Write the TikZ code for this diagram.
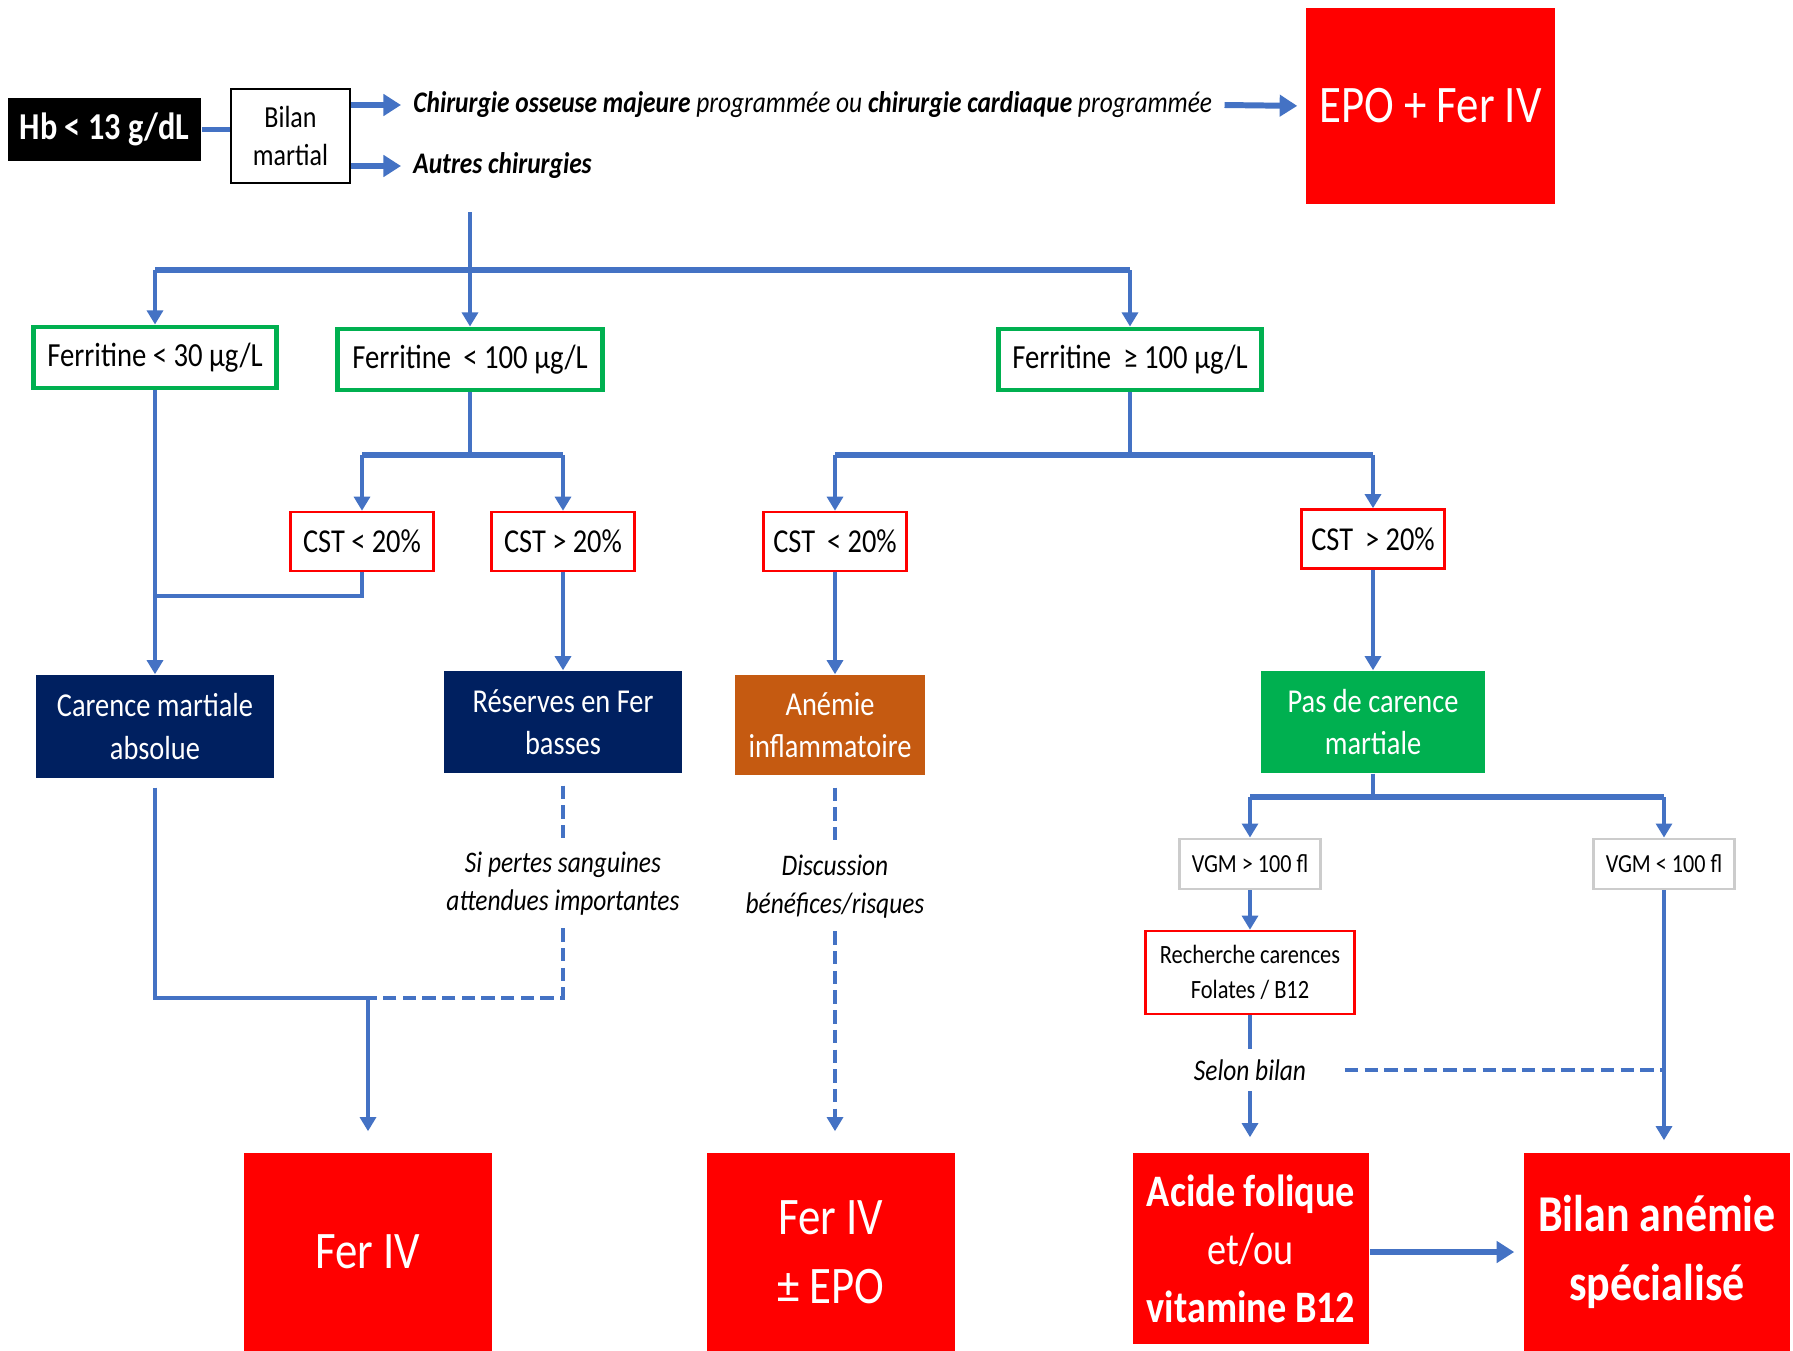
\documentclass[tikz,border=0pt]{standalone}
\usepackage{fontspec}
\setmainfont{Carlito}[FakeStretch=0.85]
\usepackage{xcolor}
\usetikzlibrary{arrows.meta,positioning}

\definecolor{linkblue}{HTML}{4472C4}
\definecolor{navybox}{HTML}{002060}
\definecolor{orangebox}{HTML}{C55A11}
\definecolor{greenbox}{HTML}{00B050}
\definecolor{redbox}{HTML}{FF0000}

\begin{document}
\begin{tikzpicture}[x=0.01cm, y=-0.01cm,
  conn/.style={draw=linkblue, line width=1.1pt},
  arr/.style={conn, -{Triangle[length=4pt,width=4.5pt]}},
  dconn/.style={conn, dash pattern=on 3.8pt off 1.8pt},
  darr/.style={dconn, -{Triangle[length=4pt,width=4.5pt]}},
  bar/.style={draw=linkblue, line width=1.8pt},
  thk/.style={draw=linkblue, line width=1.7pt},
  thkarr/.style={thk, -{Triangle[length=5pt,width=6pt]}},
  ferbox/.style={draw=greenbox, line width=1.4pt, fill=white, minimum height=0.61cm, inner sep=0pt, font=\fontsize{9.6}{12}\selectfont},
  cstbox/.style={draw=redbox, line width=0.7pt, fill=white, minimum width=1.43cm, minimum height=0.59cm, inner sep=0pt, font=\fontsize{9.5}{12}\selectfont},
  statebox/.style={text=white, align=center, inner sep=0pt, font=\fontsize{9.5}{12}\selectfont},
  vgmbox/.style={draw=black!20, line width=0.8pt, fill=white, minimum width=1.41cm, minimum height=0.5cm, inner sep=0pt, font=\fontsize{7.4}{9}\selectfont},
  redbig/.style={fill=redbox, text=white, align=center, inner sep=0pt},
  note/.style={align=center, inner sep=0.12cm, font=\itshape\fontsize{8.5}{10.8}\selectfont}]

  \useasboundingbox (0,0) rectangle (1793,1351);
  \fill[white] (0,0) rectangle (1793,1351);

  % Entree
  \node[fill=black, text=white, minimum width=1.93cm, minimum height=0.63cm, inner sep=0pt,
        font=\bfseries\fontsize{10.8}{13}\selectfont] (hb) at (104.5,129.5) {Hb < 13 g/dL};
  \node[draw=black, line width=0.6pt, fill=white, align=center, minimum width=1.19cm, minimum height=0.94cm,
        inner sep=0pt, font=\fontsize{8.7}{10.8}\selectfont] (bilan) at (290.5,136) {Bilan\\martial};
  \node[anchor=west, font=\itshape\fontsize{8.5}{10}\selectfont] (chir) at (401,105)
       {\textbf{Chirurgie osseuse majeure} programmée ou \textbf{chirurgie cardiaque} programmée};
  \node[anchor=west, font=\itshape\fontsize{8.5}{10}\selectfont] (autres) at (401,166) {\textbf{Autres chirurgies}};
  \node[redbig, minimum width=2.49cm, minimum height=1.96cm, font=\fontsize{15}{19.6}\selectfont] (epo) at (1430.5,106) {EPO + Fer IV};

  \draw[thk] (hb.east) -- (bilan.west |- hb.east);
  \draw[thkarr] (bilan.east |- chir.west) -- (chir.west);
  \draw[thkarr] (bilan.east |- autres.west) -- (autres.west);
  \draw[thkarr, shorten >=0.08cm] (chir.east) -- (epo.west);

  % Ferritine
  \coordinate (trunk) at (470,212);
  \coordinate (split1) at (470,270);
  \node[ferbox, minimum width=2.43cm] (f1) at (155,357.5) {Ferritine < 30 µg/L};
  \node[ferbox, minimum width=2.65cm] (f2) at (470,359.5) {Ferritine \,< 100 µg/L};
  \node[ferbox, minimum width=2.63cm] (f3) at (1130,359.5) {Ferritine \,≥ 100 µg/L};

  \draw[conn] (trunk) -- (split1);
  \draw[bar] (f1.north |- split1) -- (f3.north |- split1);
  \foreach \fb in {f1,f2,f3}
    \draw[arr] (\fb.north |- split1) -- (\fb.north);

  % CST
  \coordinate (split2) at (470,455);
  \coordinate (split3) at (1130,455);
  \node[cstbox] (c1) at (362,541.5) {CST < 20\%};
  \node[cstbox] (c2) at (563,541.5) {CST > 20\%};
  \node[cstbox] (c3) at (835,541.5) {CST \,< 20\%};
  \node[cstbox] (c4) at (1373,539) {CST \,> 20\%};

  \draw[conn] (f2.south) -- (split2);
  \draw[bar] (c1.north |- split2) -- (c2.north |- split2);
  \draw[conn] (f3.south) -- (split3);
  \draw[bar] (c3.north |- split3) -- (c4.north |- split3);
  \foreach \cb in {c1,c2}
    \draw[arr] (\cb.north |- split2) -- (\cb.north);
  \foreach \cb in {c3,c4}
    \draw[arr] (\cb.north |- split3) -- (\cb.north);

  % Diagnostics
  \node[statebox, fill=navybox, minimum width=2.37cm, minimum height=1.03cm] (carence) at (155,726.5) {Carence martiale\\absolue};
  \node[statebox, fill=navybox, minimum width=2.37cm, minimum height=1.02cm] (reserves) at (563,722) {Réserves en Fer\\basses};
  \node[statebox, fill=orangebox, minimum width=1.89cm, minimum height=1.0cm] (anemie) at (830,725) {Anémie\\inflammatoire};
  \node[statebox, fill=greenbox, minimum width=2.23cm, minimum height=1.02cm] (pasde) at (1373,722) {Pas de carence\\martiale};

  \coordinate (cjoin) at (155,596);
  \draw[arr] (f1.south) -- (carence.north);
  \draw[conn] (c1.south) |- (cjoin);
  \draw[arr] (c2.south) -- (reserves.north);
  \draw[arr] (c3.south) -- (c3.south |- anemie.north);
  \draw[arr] (c4.south) -- (pasde.north);

  % Traitements gauche
  \coordinate (merge) at (368,998);
  \node[note] (si) at (563,884) {Si pertes sanguines\\attendues importantes};
  \node[note] (disc) at (835,887) {Discussion\\bénéfices/risques};
  \node[redbig, minimum width=2.48cm, minimum height=1.98cm, font=\fontsize{15}{19.6}\selectfont] (fer) at (368,1252) {Fer IV};
  \node[redbig, minimum width=2.48cm, minimum height=1.98cm, font=\fontsize{15}{19.6}\selectfont] (feriv) at (831,1252) {Fer IV\\± EPO};

  \draw[conn, shorten <=0.09cm] (carence.south) |- (merge);
  \draw[dconn, shorten <=0.12cm] (reserves.south) -- (si.north);
  \draw[dconn] (si.south) |- (merge);
  \draw[arr, shorten >=0.21cm] (merge) -- (merge |- fer.north);
  \draw[dconn, shorten <=0.12cm] (anemie.south -| disc.north) -- (disc.north);
  \draw[darr, shorten >=0.21cm] (disc.south) -- (disc.south |- feriv.north);

  % Pas de carence martiale
  \coordinate (split4) at (1373,797);
  \node[vgmbox] (vgm1) at (1250,864) {VGM > 100 fl};
  \node[vgmbox] (vgm2) at (1664,864) {VGM < 100 fl};
  \node[draw=redbox, line width=0.7pt, fill=white, align=center, minimum width=2.09cm, minimum height=0.83cm,
        inner sep=0pt, font=\fontsize{7.5}{9.8}\selectfont] (rech) at (1250,972.5) {Recherche carences\\Folates / B12};
  \node[note, inner sep=0.1cm] (selon) at (1250,1070) {Selon bilan};
  \node[redbig, minimum width=2.36cm, minimum height=1.91cm, font=\fontsize{12.8}{16.5}\selectfont] (acide) at (1251,1248.5)
       {\textbf{Acide folique}\\et/ou\\\textbf{vitamine B12}};
  \node[redbig, minimum width=2.66cm, minimum height=1.98cm, font=\bfseries\fontsize{14.7}{19.6}\selectfont] (bilan2) at (1657,1252)
       {Bilan anémie\\spécialisé};

  \draw[conn] (pasde.south) -- (split4);
  \draw[bar] (vgm1.north |- split4) -- (vgm2.north |- split4);
  \foreach \vb in {vgm1,vgm2}
    \draw[arr] (\vb.north |- split4) -- (\vb.north);
  \draw[arr] (vgm1.south) -- (rech.north);
  \draw[conn] (rech.south) -- (selon.north);
  \draw[arr, shorten >=0.15cm] (selon.south) -- (selon.south |- acide.north);
  \draw[dconn, shorten <=0.28cm] (selon.east) -- (selon.east -| vgm2.south);
  \draw[arr, shorten >=0.12cm] (vgm2.south) -- (vgm2.south |- bilan2.north);
  \draw[thkarr, shorten >=0.09cm] (acide.east |- bilan2.west) -- (bilan2.west);
\end{tikzpicture}
\end{document}
